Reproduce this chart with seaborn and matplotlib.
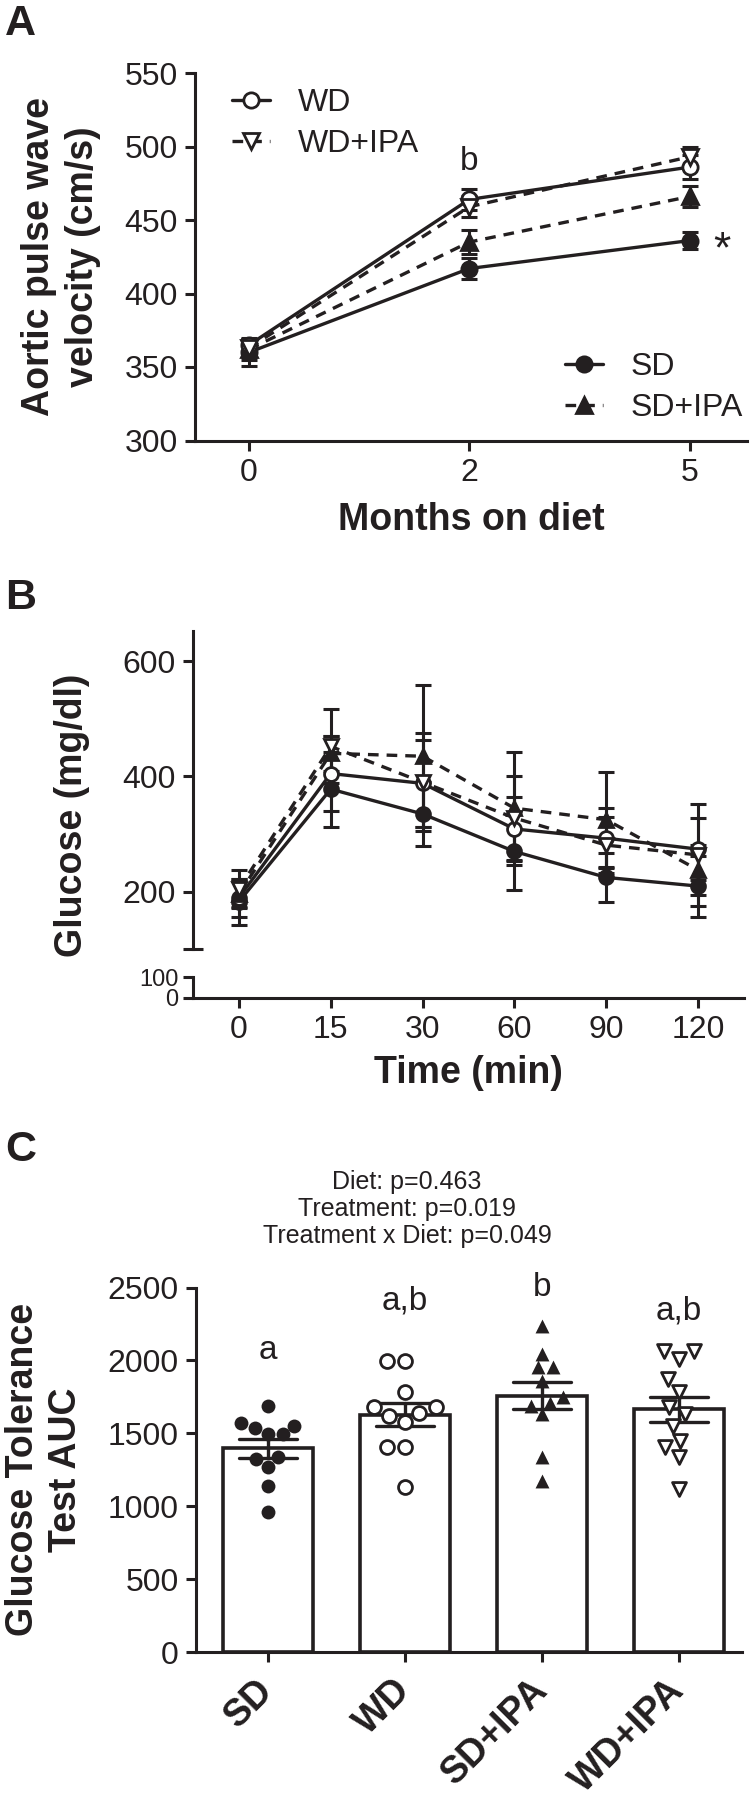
import numpy as np
import pandas as pd
import seaborn as sns
import matplotlib.pyplot as plt

ink = "#231f20"

# ---- A: aortic pulse wave velocity, mean and SEM
months = ["0", "2", "5"]
pwv_sd = [360, 417, 436]
pwv_sd_sem = [9, 7, 6]
pwv_wd = [365, 464, 486]
pwv_wd_sem = [5, 7, 8]
pwv_sdipa = [362, 435, 466]
pwv_sdipa_sem = [7, 8, 7]
pwv_wdipa = [363, 459, 493]
pwv_wdipa_sem = [6, 7, 7]

# ---- B: glucose tolerance test, mean and SEM
times = ["0", "15", "30", "60", "90", "120"]
glu_sd = [183, 378, 335, 270, 225, 210]
glu_sd_sem = [40, 65, 55, 67, 42, 53]
glu_wd = [190, 405, 388, 309, 293, 274]
glu_wd_sem = [33, 65, 76, 56, 52, 54]
glu_sdipa = [196, 440, 435, 345, 325, 238]
glu_sdipa_sem = [22, 30, 123, 98, 82, 43]
glu_wdipa = [205, 452, 390, 328, 281, 264]
glu_wdipa_sem = [33, 64, 85, 72, 49, 88]

# ---- C: GTT area under curve, individual animals
groups = ["SD", "WD", "SD+IPA", "WD+IPA"]
auc_sd = [1686, 1549, 1573, 1494, 1494, 1533, 1336, 1267, 1324, 1140, 962]
auc_wd = [1998, 1998, 1781, 1678, 1678, 1640, 1621, 1575, 1404, 1404, 1130]
auc_sdipa = [2237, 2043, 1952, 1952, 1860, 1710, 1747, 1630, 1690, 1336, 1176]
auc_wdipa = [2066, 2009, 2066, 1872, 1781, 1678, 1632, 1553, 1404, 1450, 1336, 1119]
sig_letters = ["a", "a,b", "b", "a,b"]
stats_text = "Diet: p=0.463\nTreatment: p=0.019\nTreatment x Diet: p=0.049"

sns.set_theme(style="ticks", rc={
    "axes.edgecolor": ink, "axes.linewidth": 2.2,
    "xtick.color": ink, "ytick.color": ink,
    "text.color": ink, "axes.labelcolor": ink,
    "xtick.major.width": 2.2, "ytick.major.width": 2.2,
    "xtick.major.size": 7.5, "ytick.major.size": 7.5,
    "xtick.labelsize": 23, "ytick.labelsize": 23,
    "xtick.major.pad": 5, "ytick.major.pad": 5,
})
plt.rcParams["font.family"] = ["Liberation Sans", "DejaVu Sans"]

W, H = 750, 1800
fig = plt.figure(figsize=(7.5, 18), dpi=100)


def rect(x0, y_top, x1, y_bot):
    return [x0 / W, 1 - y_bot / H, (x1 - x0) / W, (y_bot - y_top) / H]


def draw_series(ax, xs, ys, err, marker, filled, dashed, ms):
    ax.errorbar(xs, ys, yerr=err, fmt="none", ecolor=ink, elinewidth=2.2,
                capsize=6, capthick=2.2, zorder=2)
    sns.lineplot(x=xs, y=ys, ax=ax, color=ink, lw=2.4,
                 linestyle=(0, (3.2, 2.4)) if dashed else "-",
                 marker=marker, markersize=ms,
                 markerfacecolor=ink if filled else "white",
                 markeredgecolor=ink, markeredgewidth=2, zorder=3)
    return ax.lines[-1]


# style per group: marker, filled, dashed
look = {"SD": ("o", True, False), "WD": ("o", False, False),
        "SD+IPA": ("^", True, True), "WD+IPA": ("v", False, True)}

# ================= A
axA = fig.add_axes(rect(195, 73, 747, 440.5))
xa = np.arange(len(months))
hA = {}
for g, ys, err in [("SD", pwv_sd, pwv_sd_sem), ("SD+IPA", pwv_sdipa, pwv_sdipa_sem),
                   ("WD", pwv_wd, pwv_wd_sem), ("WD+IPA", pwv_wdipa, pwv_wdipa_sem)]:
    hA[g] = draw_series(axA, xa, ys, err, *look[g], ms=11)
axA.set_xlim(-0.245, 2.26)
axA.set_ylim(300, 550)
axA.set_yticks(range(300, 551, 50))
axA.set_xticks(xa, months)
sns.despine(ax=axA)
axA.set_xlabel("Months on diet", fontweight="bold", fontsize=27)
axA.xaxis.set_label_coords(0.5, -0.216)
axA.xaxis.label.set_va("center")
axA.set_ylabel("Aortic pulse wave\nvelocity (cm/s)", fontweight="bold", fontsize=27, linespacing=1.3)
axA.yaxis.set_label_coords(-0.243, 0.5)
axA.yaxis.label.set_va("center")
leg_kw = dict(frameon=False, fontsize=23, handlelength=1.2, handletextpad=0.85,
              borderpad=0, borderaxespad=0, labelspacing=0.35, loc="center left")
legW = axA.legend([hA["WD"], hA["WD+IPA"]], ["WD", "WD+IPA"], bbox_to_anchor=(0.067, 0.863), **leg_kw)
axA.add_artist(legW)
axA.legend([hA["SD"], hA["SD+IPA"]], ["SD", "SD+IPA"], bbox_to_anchor=(0.67, 0.144), **leg_kw)
axA.text(1, 490, "b", ha="center", va="center", fontsize=24)
axA.text(2.145, 429, "*", ha="center", va="center", fontsize=32)

# ================= B (broken y axis)
axB = fig.add_axes(rect(193, 631, 744, 949))
axB0 = fig.add_axes(rect(193, 977, 744, 998))
xb = np.arange(len(times))
for g, ys, err in [("SD", glu_sd, glu_sd_sem), ("WD", glu_wd, glu_wd_sem),
                   ("SD+IPA", glu_sdipa, glu_sdipa_sem), ("WD+IPA", glu_wdipa, glu_wdipa_sem)]:
    draw_series(axB, xb, ys, err, *look[g], ms=10)
for ax in (axB, axB0):
    ax.set_xlim(-0.5, 5.5)
axB.set_ylim(101, 652)
axB.set_yticks([200, 400, 600])
axB.set_yticks([101], minor=True)
axB.tick_params(axis="y", which="minor", direction="inout", length=14, width=2.2)
axB.set_xticks([])
sns.despine(ax=axB, bottom=True)
axB0.set_ylim(0, 100)
axB0.set_yticks([0, 100], ["0", "100"], fontsize=17)
axB0.set_yticks([100], minor=True)
axB0.tick_params(axis="y", which="minor", direction="inout", length=14, width=2.2)
axB0.tick_params(axis="y", which="major", pad=3)
axB0.set_xticks(xb, times)
sns.despine(ax=axB0)
axB0.set_xlabel("Time (min)", fontweight="bold", fontsize=27)
axB0.xaxis.set_label_coords(0.5, -3.571)
axB0.xaxis.label.set_va("center")
fig.text(72 / W, 1 - 815 / H, "Glucose (mg/dl)", rotation=90, ha="center", va="center",
         fontweight="bold", fontsize=27)

# ================= C
axC = fig.add_axes(rect(196, 1287.5, 742, 1652))
dfC = pd.DataFrame({
    "group": ["SD"] * len(auc_sd) + ["WD"] * len(auc_wd)
             + ["SD+IPA"] * len(auc_sdipa) + ["WD+IPA"] * len(auc_wdipa),
    "auc": auc_sd + auc_wd + auc_sdipa + auc_wdipa,
})
sns.barplot(data=dfC, x="group", y="auc", order=groups, color="white", edgecolor=ink,
            linewidth=2.6, width=0.66, errorbar="se", capsize=0.42,
            err_kws={"color": ink, "linewidth": 2.4}, ax=axC)
for g in groups:
    mk, filled, _ = look[g]
    sns.swarmplot(data=dfC[dfC.group == g], x="group", y="auc", order=groups, ax=axC,
                  marker=mk, color=ink if filled else "white", edgecolor=ink,
                  linewidth=0 if filled else 2, size=10)
letter_y = [2068, 2404, 2497, 2342]
for i, (lab, y) in enumerate(zip(sig_letters, letter_y)):
    axC.text(i, y, lab, ha="center", va="center", fontsize=24)
axC.set_xlim(-0.525, 3.46)
axC.set_ylim(0, 2500)
axC.set_yticks(range(0, 2501, 500))
axC.set_xticks(range(len(groups)), groups, rotation=45, ha="right", va="center",
               rotation_mode="anchor", fontweight="bold", fontsize=27)
axC.tick_params(axis="x", pad=16)
sns.despine(ax=axC)
axC.set_xlabel("")
axC.set_ylabel("Glucose Tolerance\nTest AUC", fontweight="bold", fontsize=27, linespacing=1.25)
axC.yaxis.set_label_coords(-0.277, 0.5)
axC.yaxis.label.set_va("center")
fig.text(407 / W, 1 - 1209 / H, stats_text, ha="center", va="center", fontsize=18, linespacing=1.15)

# panel letters
for letter, top in [("A", 4), ("B", 578), ("C", 1130)]:
    fig.text(5 / W, 1 - top / H, letter, ha="left", va="top", fontsize=31, fontweight="bold")

fig.savefig("out.png", dpi=100)
